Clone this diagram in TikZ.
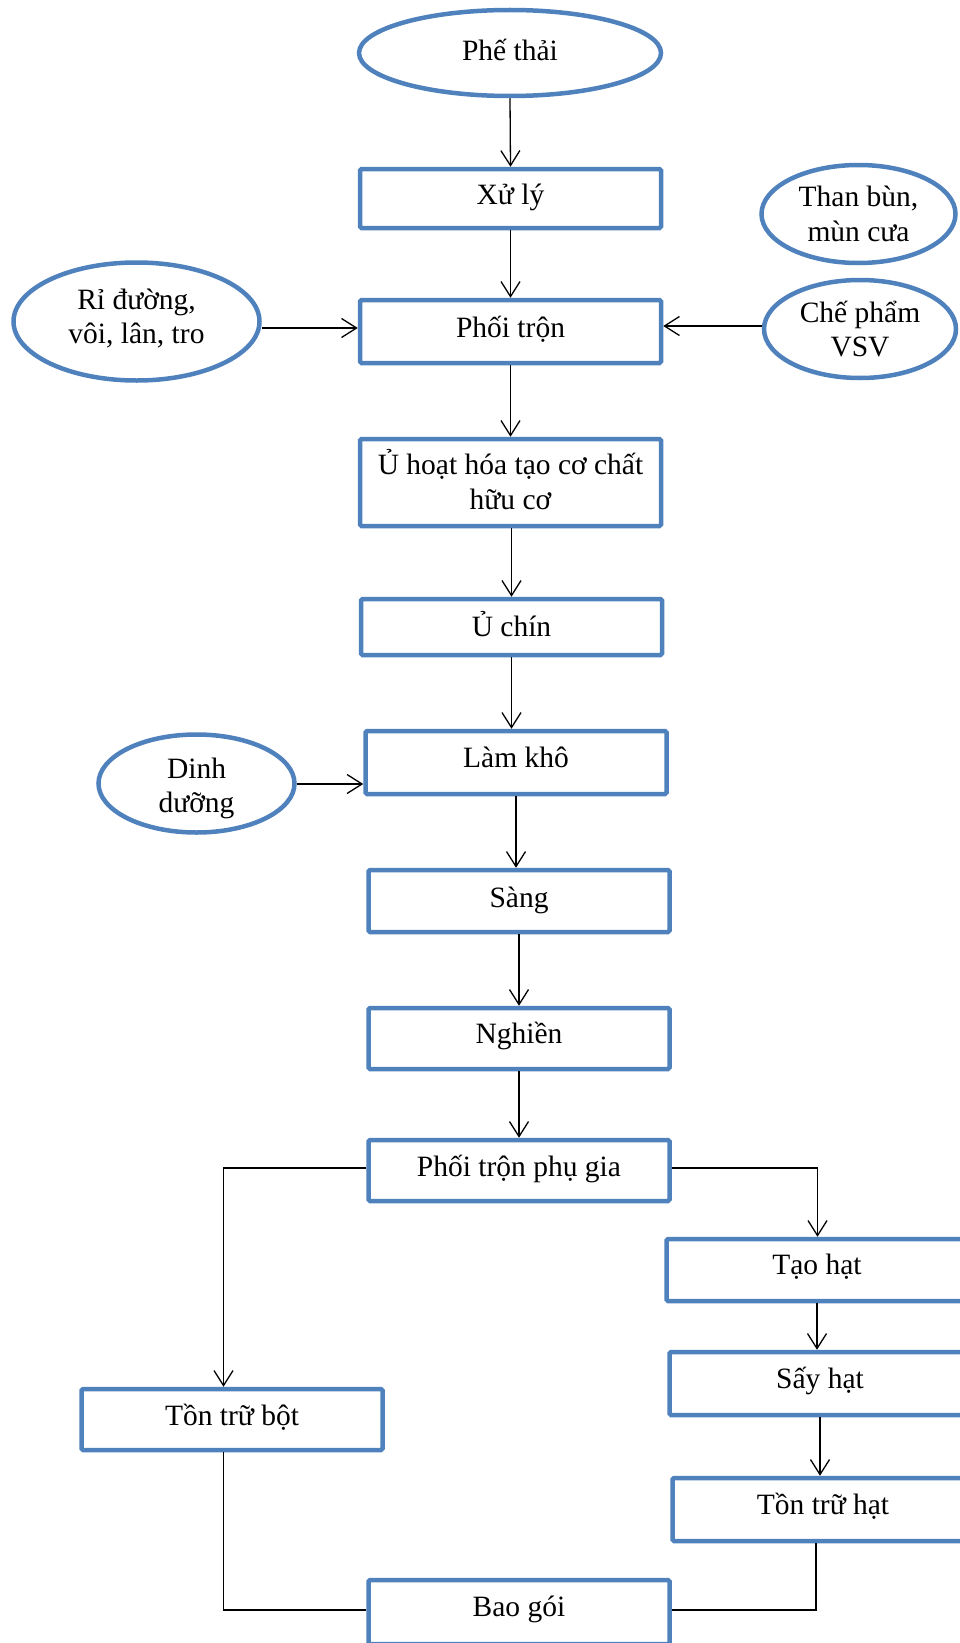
\documentclass[tikz,border=0pt]{standalone}
\usepackage{fontspec}
\setmainfont{Liberation Serif}
\usetikzlibrary{shapes.geometric,arrows.meta}
\definecolor{bblue}{HTML}{4F81BD}
\begin{document}
\begin{tikzpicture}[x=1pt,y=-1pt,
  txt/.style={font=\fontsize{29.5}{34.5}\selectfont,align=center,text=black,inner sep=0pt},
  box/.style={draw=bblue,line width=4.5pt,rounded corners=1.5pt,minimum width=301pt,inner sep=0pt},
  oval/.style={ellipse,draw=bblue,line width=4.5pt,inner sep=0pt},
  conn/.style={line width=1.3pt,draw=black},
  arr/.style={conn,-{Straight Barb[length=15pt,width=19pt]}}]
\useasboundingbox (0,0) rectangle (960,1643);
\node[oval,minimum width=302pt,minimum height=86pt,label={[txt,yshift=3pt]center:Phế thải}] (phe) at (510,53) {};
\node[box,minimum height=59pt,label={[txt,yshift=1pt]center:Xử lý}] (xuly) at (510.5,198.5) {};
\node[oval,minimum width=194pt,minimum height=98pt,label={[txt]center:Than bùn,\\mùn cưa}] (than) at (858.5,214) {};
\node[oval,minimum width=246pt,minimum height=118pt,label={[txt,yshift=3pt]center:Rỉ đường,\\vôi, lân, tro}] (ri) at (136.5,321.5) {};
\node[box,minimum height=63pt,label={[txt,yshift=2pt]center:Phối trộn}] (pt) at (510.5,331.5) {};
\node[oval,minimum width=192pt,minimum height=98pt,label={[txt]center:Chế phẩm\\VSV}] (che) at (860,329) {};
\node[box,minimum height=87pt,label={[txt,yshift=3pt]center:Ủ hoạt hóa tạo cơ chất\\hữu cơ}] (uhh) at (510.5,482.5) {};
\node[box,minimum height=56pt,label={[txt,yshift=3pt]center:Ủ chín}] (uchin) at (511.5,627) {};
\node[box,minimum height=63pt,label={[txt,yshift=5pt]center:Làm khô}] (lamkho) at (516,762.5) {};
\node[oval,minimum width=196pt,minimum height=98pt,label={[txt,yshift=-5pt]center:Dinh\\dưỡng}] (dinh) at (196.5,783.5) {};
\node[box,minimum height=62pt,label={[txt,yshift=1pt]center:Sàng}] (sang) at (519,901) {};
\node[box,minimum height=61pt,label={[txt,yshift=3pt]center:Nghiền}] (nghien) at (519,1038.5) {};
\node[box,minimum height=61pt,label={[txt,yshift=2pt]center:Phối trộn phụ gia}] (ptpg) at (519,1170.5) {};
\node[box,minimum height=62pt,label={[txt,yshift=3pt]center:Tạo hạt}] (taohat) at (817,1270) {};
\node[box,minimum height=63pt,label={[txt,yshift=3pt]center:Sấy hạt}] (sayhat) at (820,1383.5) {};
\node[box,minimum height=63pt,label={[txt,yshift=3pt]center:Tồn trữ hạt}] (tthat) at (823,1509.5) {};
\node[box,minimum height=61pt,label={[txt,yshift=2pt]center:Tồn trữ bột}] (ttbot) at (232,1419.5) {};
\node[box,minimum height=64pt,label={[txt,yshift=3pt]center:Bao gói}] (bao) at (519,1612) {};
\draw[arr] (phe.south) -- (xuly.north);
\draw[arr] (xuly.south) -- (pt.north);
\draw[arr] (ri.east |- 0,328) -- (pt.west |- 0,328);
\draw[arr] (che.west |- 0,326) -- (pt.east |- 0,326);
\draw[arr] (pt.south) -- (uhh.north);
\draw[arr] (uchin.north |- uhh.south) -- (uchin.north);
\draw[arr] (uchin.south) -- (uchin.south |- lamkho.north);
\draw[arr] (dinh.east |- 0,784) -- (lamkho.west |- 0,784);
\draw[arr] (lamkho.south) -- (lamkho.south |- sang.north);
\draw[arr] (sang.south) -- (nghien.north);
\draw[arr] (nghien.south) -- (ptpg.north);
\coordinate (lc) at (223.5,1168);
\coordinate (rc) at (817.5,1168);
\draw[arr] (ptpg.west |- lc) -- (lc) -- (lc |- ttbot.north);
\draw[arr] (ptpg.east |- rc) -- (rc) -- (rc |- taohat.north);
\draw[arr] (taohat.south) -- (taohat.south |- sayhat.north);
\draw[arr] (sayhat.south) -- (sayhat.south |- tthat.north);
\coordinate (lb) at (223.5,1610);
\coordinate (rb) at (816,1610);
\draw[conn] (lb |- ttbot.south) -- (lb) -- (lb -| bao.west);
\draw[conn] (rb |- tthat.south) -- (rb) -- (rb -| bao.east);
\end{tikzpicture}
\end{document}
